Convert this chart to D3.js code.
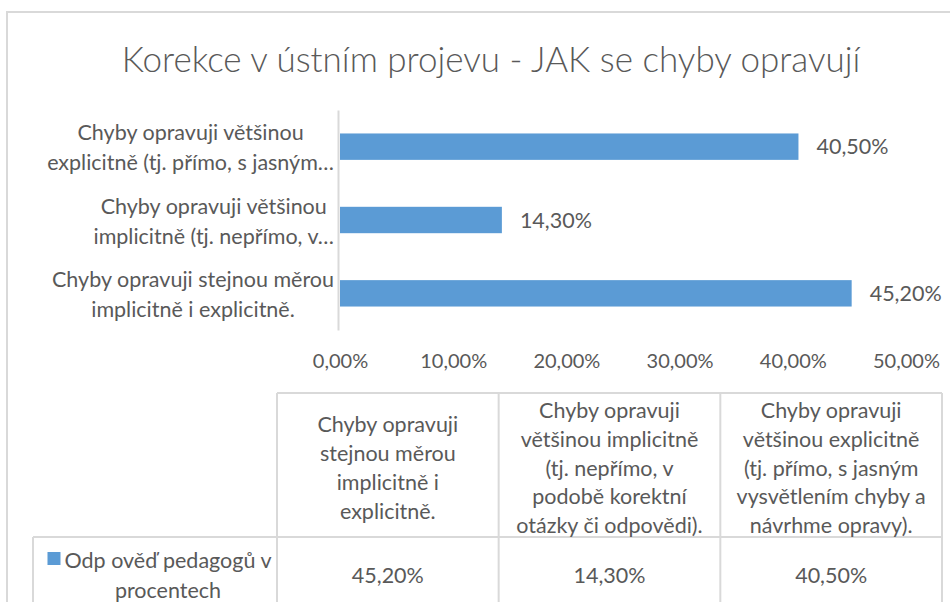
<!DOCTYPE html>
<html>
<head>
<meta charset="utf-8">
<script src="https://cdn.jsdelivr.net/npm/d3@7"></script>
<style>
  body { margin: 0; background: #fff; }
  text { font-family: Lato, "Open Sans", sans-serif; fill: #595959; }
</style>
</head>
<body>
<div class="chart"></div>
<script>
var svgWidth = 950;
var svgHeight = 602;

// data, top bar first
var categories = [
  "Chyby opravuji většinou explicitně (tj. přímo, s jasným vysvětlením chyby a návrhme opravy).",
  "Chyby opravuji většinou implicitně (tj. nepřímo, v podobě korektní otázky či odpovědi).",
  "Chyby opravuji stejnou měrou implicitně i explicitně."
];
var values = [0.405, 0.143, 0.452];
// wrapped / truncated axis labels, same order as categories
var axisLabels = [
  ["Chyby opravuji většinou", "explicitně (tj. přímo, s jasným…"],
  ["Chyby opravuji většinou", "implicitně (tj. nepřímo, v…"],
  ["Chyby opravuji stejnou měrou", "implicitně i explicitně."]
];
// table header lines, same order as categories
var tableHeaders = [
  ["Chyby opravuji", "většinou explicitně", "(tj. přímo, s jasným", "vysvětlením chyby a", "návrhme opravy)."],
  ["Chyby opravuji", "většinou implicitně", "(tj. nepřímo, v", "podobě korektní", "otázky či odpovědi)."],
  ["Chyby opravuji", "stejnou měrou", "implicitně i", "explicitně."]
];
var xTicks = [0, 0.1, 0.2, 0.3, 0.4, 0.5];
var seriesName = ["Odp ověď pedagogů v", "procentech"];
var title = "Korekce v ústním projevu - JAK se chyby opravují";

var barColor = "#5b9bd5";
var lineColor = "#d9d9d9";
var fs = "21.5px";

var pct = function (d) { return d3.format(".2f")(d * 100).replace(".", ",") + "%"; };

var svg = d3.select(".chart")
  .append("svg")
  .attr("width", svgWidth)
  .attr("height", svgHeight);

svg.append("rect")
  .attr("width", svgWidth)
  .attr("height", svgHeight)
  .attr("fill", "#fff");

// chart frame (only top and left edges are visible)
svg.append("rect")
  .attr("x", 7)
  .attr("y", 12)
  .attr("width", 960)
  .attr("height", 620)
  .attr("fill", "none")
  .attr("stroke", lineColor)
  .attr("stroke-width", 2);

// title
svg.append("text")
  .attr("x", 491)
  .attr("y", 72)
  .attr("text-anchor", "middle")
  .style("font-size", "35px")
  .style("font-weight", 300)
  .text(title);

// scales
var xScale = d3.scaleLinear()
  .domain([0, 0.5])
  .range([340, 906]);

var yScale = d3.scaleBand()
  .domain(categories)
  .range([110, 330])
  .paddingInner(0.64)
  .paddingOuter(0.32);

// bars
svg.selectAll(".bar")
  .data(categories)
  .enter()
  .append("rect")
  .attr("class", "bar")
  .attr("x", xScale(0))
  .attr("y", d => yScale(d))
  .attr("width", (d, i) => xScale(values[i]) - xScale(0))
  .attr("height", yScale.bandwidth())
  .attr("fill", barColor);

// value labels
svg.selectAll(".val")
  .data(categories)
  .enter()
  .append("text")
  .attr("class", "val")
  .attr("x", (d, i) => xScale(values[i]) + 18)
  .attr("y", d => yScale(d) + yScale.bandwidth() / 2)
  .attr("dy", "0.35em")
  .style("font-size", fs)
  .text((d, i) => pct(values[i]));

// left axis line
var leftAxis = d3.axisLeft(yScale).tickSize(0).tickFormat("");
var yAxis = svg.append("g")
  .attr("transform", "translate(338,0)")
  .call(leftAxis);
yAxis.select(".domain").attr("stroke", lineColor).attr("stroke-width", 2);

// category labels: block right-aligned to the axis, lines centred inside it
var catLabels = svg.selectAll(".cat")
  .data(categories)
  .enter()
  .append("text")
  .attr("class", "cat")
  .attr("text-anchor", "middle")
  .style("font-size", fs);

catLabels.each(function (d, i) {
  var cy = yScale(d) + yScale.bandwidth() / 2;
  var tsp = d3.select(this).selectAll("tspan")
    .data(axisLabels[i])
    .enter()
    .append("tspan")
    .attr("y", (t, j) => cy - 14 + j * 30)
    .attr("dy", "0.35em")
    .text(t => t);
  var maxW = d3.max(tsp.nodes(), n => n.getComputedTextLength());
  tsp.attr("x", 334 - maxW / 2);
});

// bottom axis (labels only)
var bottomAxis = d3.axisBottom(xScale)
  .tickValues(xTicks)
  .tickSize(0)
  .tickPadding(0)
  .tickFormat(pct);
var xAxis = svg.append("g")
  .attr("transform", "translate(0,354)")
  .call(bottomAxis);
xAxis.select(".domain").remove();
xAxis.selectAll("text")
  .attr("fill", "#595959")
  .style("font-size", "20px")
  .style("font-family", "Lato, sans-serif");

// data table
var tableCols = categories.slice().reverse();
var colScale = d3.scaleBand()
  .domain(tableCols)
  .range([277, 942]);

var tableTop = 393;
var headerBottom = 537;
var tableBottom = 620;
var legendLeft = 33;

var table = svg.append("g")
  .attr("stroke", lineColor)
  .attr("stroke-width", 2);

table.append("line")
  .attr("x1", colScale.range()[0]).attr("x2", colScale.range()[1])
  .attr("y1", tableTop).attr("y2", tableTop);
table.append("line")
  .attr("x1", legendLeft).attr("x2", colScale.range()[1])
  .attr("y1", headerBottom).attr("y2", headerBottom);
table.append("line")
  .attr("x1", legendLeft).attr("x2", legendLeft)
  .attr("y1", headerBottom).attr("y2", tableBottom);
table.selectAll(".vline")
  .data(tableCols.concat(["end"]))
  .enter()
  .append("line")
  .attr("class", "vline")
  .attr("x1", d => d === "end" ? colScale.range()[1] : colScale(d))
  .attr("x2", d => d === "end" ? colScale.range()[1] : colScale(d))
  .attr("y1", tableTop)
  .attr("y2", tableBottom);

// header cells
var headerMid = (tableTop + headerBottom) / 2 + 3;
var lineH = 28.8;
svg.selectAll(".hdr")
  .data(tableCols)
  .enter()
  .append("text")
  .attr("class", "hdr")
  .attr("text-anchor", "middle")
  .style("font-size", fs)
  .each(function (d) {
    var lines = tableHeaders[categories.indexOf(d)];
    var cx = colScale(d) + colScale.bandwidth() / 2;
    var y0 = headerMid - (lines.length - 1) * lineH / 2;
    d3.select(this).selectAll("tspan")
      .data(lines)
      .enter()
      .append("tspan")
      .attr("x", cx)
      .attr("y", (t, j) => y0 + j * lineH)
      .attr("dy", "0.35em")
      .text(t => t);
  });

// value cells
svg.selectAll(".cell")
  .data(tableCols)
  .enter()
  .append("text")
  .attr("class", "cell")
  .attr("text-anchor", "middle")
  .attr("x", d => colScale(d) + colScale.bandwidth() / 2)
  .attr("y", 575)
  .attr("dy", "0.35em")
  .style("font-size", fs)
  .text(d => pct(values[categories.indexOf(d)]));

// legend cell
var legendMid = (legendLeft + colScale.range()[0]) / 2 + 13;
var legText = svg.append("text")
  .attr("text-anchor", "middle")
  .style("font-size", fs);
legText.selectAll("tspan")
  .data(seriesName)
  .enter()
  .append("tspan")
  .attr("x", legendMid)
  .attr("y", (t, j) => 560 + j * 30)
  .attr("dy", "0.35em")
  .text(t => t);

var firstW = legText.select("tspan").node().getComputedTextLength();
svg.append("rect")
  .attr("x", legendMid - firstW / 2 - 17)
  .attr("y", 552)
  .attr("width", 13)
  .attr("height", 13)
  .attr("fill", barColor);
</script>
</body>
</html>
